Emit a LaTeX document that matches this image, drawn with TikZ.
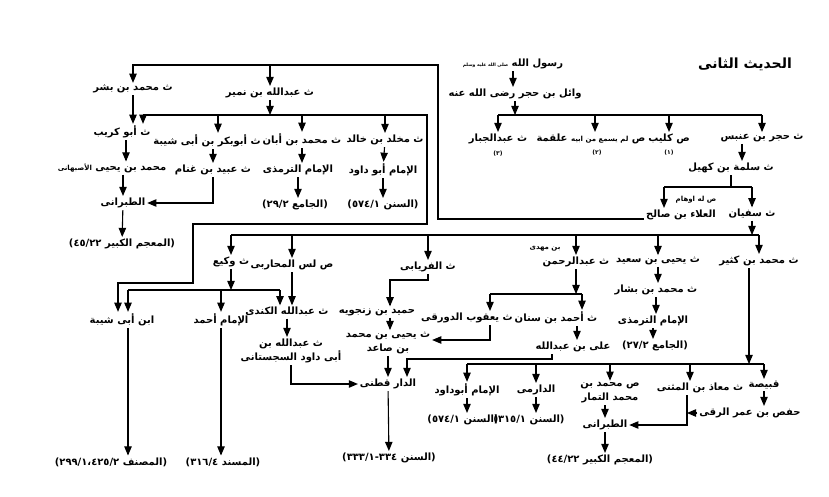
\documentclass[tikz,border=0pt]{standalone}
\usepackage{fontspec}
\usepackage{tikz}
\usetikzlibrary{arrows}
\newfontfamily\arabicfont[Script=Arabic]{DejaVu Sans}
\TeXXeTstate=1
\newcommand{\arb}[1]{\beginR #1\endR}
\newcommand{\src}[2]{\arb{\hbox{(}#1 \hbox{#2}\hbox{)}}}
\newcommand{\sml}{\fontsize{7}{8}\selectfont}

\begin{document}
\begin{tikzpicture}[x=1pt,y=-1pt,->,>=triangle 45,line width=1.1pt]
  \tikzstyle{rawi}=[inner sep=1.5pt,align=center,font=\arabicfont\bfseries\fontsize{10}{14}\selectfont]
  \tikzstyle{smallnote}=[inner sep=1pt,font=\arabicfont\bfseries\fontsize{6}{7}\selectfont]
  \useasboundingbox (0,0) rectangle (829,497);

  % bars and bends
  \coordinate (b1) at (513,115);
  \coordinate (b2) at (727,187);
  \coordinate (c1) at (438,65);
  \coordinate (b3) at (268,115);
  \coordinate (k1) at (427,115);
  \coordinate (k2) at (193,224);
  \coordinate (k3) at (118,283);
  \coordinate (b4) at (753,235);
  \coordinate (b5) at (573,294);
  \coordinate (b7) at (233,290);
  \coordinate (b6) at (749,364);
  \coordinate (f1) at (390,280);
  \coordinate (d1) at (407,359);

  % title and first links
  \node[rawi,font=\arabicfont\bfseries\fontsize{14}{16}\selectfont] (title) at (745,64) {\arb{الحديث الثانى}};
  \node[rawi] (rasul) at (513,64) {\arb{رسول الله {\fontsize{4.5}{5}\selectfont صلى الله عليه وسلم}}};
  \node[rawi] (wail) at (515,94) {\arb{وائل بن حجر رضى الله عنه}};

  \node[rawi] (abdjabbar) at (498,139) {\arb{ث عبدالجبار}};
  \node[rawi] (alqama) at (591,139) {\arb{ص {\sml لم يسمع من ابيه} علقمة}};
  \node[rawi] (kulayb) at (669,139) {\arb{ص كليب}};
  \node[rawi] (hujr) at (762,138) {\arb{ث حجر بن عنبس}};
  \node[smallnote] (n3) at (498,154) {(٣)};
  \node[smallnote] (n2) at (597,153) {(٢)};
  \node[smallnote] (n1) at (669,153) {(١)};

  \node[rawi] (salama) at (731,168) {\arb{ث سلمة بن كهيل}};
  \node[rawi] (alaa) at (681,215) {\arb{العلاء بن صالح}};
  \node[smallnote,font=\arabicfont\bfseries\sml] (awham) at (696,200) {\arb{ص له اوهام}};
  \node[rawi] (sufyan) at (752,214) {\arb{ث سفيان}};

  % ibn numayr and his students
  \node[rawi] (bishr) at (133,89) {\arb{ث محمد بن بشر}};
  \node[rawi] (numayr) at (270,93) {\arb{ث عبدالله بن نمير}};
  \node[rawi] (makhlad) at (385,140) {\arb{ث مخلد بن خالد}};
  \node[rawi] (aban) at (302,140) {\arb{ث محمد بن أبان}};
  \node[rawi] (abubakr) at (207,141) {\arb{ث أبوبكر بن أبى شيبة}};
  \node[rawi] (kurayb) at (122,132) {\arb{ث أبو كريب}};
  \node[rawi] (isbahani) at (112,168) {\arb{محمد بن يحيى {\sml الأصبهانى}}};
  \node[rawi] (ubayd) at (213,170) {\arb{ث عبيد بن غنام}};
  \node[rawi] (abudawudA) at (383,170) {\arb{الإمام أبو داود}};
  \node[rawi] (tirmidhiA) at (298,170) {\arb{الإمام الترمذى}};
  \node[rawi] (tabaraniA) at (123,203) {\arb{الطبرانى}};
  \node[rawi] (sunanA) at (383,205) {\src{السنن}{٥٧٤/١}};
  \node[rawi] (jamiA) at (295,205) {\src{الجامع}{٢٩/٢}};
  \node[rawi] (mujamA) at (122,244) {\src{المعجم الكبير}{٤٥/٢٢}};

  % students of sufyan
  \node[rawi] (kathir) at (759,261) {\arb{ث محمد بن كثير}};
  \node[rawi] (yahya) at (658,261) {\arb{ث يحيى بن سعيد}};
  \node[rawi] (abdrahman) at (576,262) {\arb{ث عبدالرحمن}};
  \node[smallnote,font=\arabicfont\bfseries\sml] (mahdi) at (545,249) {\arb{بن مهدى}};
  \node[rawi] (firyabi) at (428,267) {\arb{ث الفريابى}};
  \node[rawi] (muharibi) at (292,265) {\arb{ص لس المحاربى}};
  \node[rawi] (waki) at (231,262) {\arb{ث وكيع}};

  \node[rawi] (bashshar) at (656,290) {\arb{ث محمد بن بشار}};
  \node[rawi] (tirmidhiB) at (653,321) {\arb{الإمام الترمذى}};
  \node[rawi] (jamiB) at (655,346) {\src{الجامع}{٢٧/٢}};
  \node[rawi] (sinan) at (556,318) {\arb{ث أحمد بن سنان}};
  \node[rawi] (yaqub) at (467,318) {\arb{ث يعقوب الدورقى}};
  \node[rawi] (ali) at (573,347) {\arb{على بن عبدالله}};
  \node[rawi] (humayd) at (377,312) {\arb{حميد بن زنجويه}};
  \node[rawi] (kindi) at (287,312) {\arb{ث عبدالله الكندى}};
  \node[rawi] (ahmad) at (221,320) {\arb{الإمام أحمد}};
  \node[rawi] (shayba) at (122,320) {\arb{ابن أبى شيبة}};
  \node[rawi] (saaid) at (388,343) {\arb{ث يحيى بن محمد}\\\arb{بن صاعد}};
  \node[rawi] (sijistani) at (291,351) {\arb{ث عبدالله بن}\\\arb{أبى داود السجستانى}};
  \node[rawi] (daraqutni) at (388,384) {\arb{الدار قطنى}};
  \node[rawi] (abudawudB) at (467,390) {\arb{الإمام أبوداود}};
  \node[rawi] (darimi) at (536,390) {\arb{الدارمى}};
  \node[rawi] (tammar) at (610,393) {\arb{ص محمد بن}\\\arb{محمد التمار}};
  \node[rawi] (muadh) at (700,388) {\arb{ث معاذ بن المثنى}};
  \node[rawi] (qabisa) at (764,385) {\arb{قبيصة}};
  \node[rawi] (hafs) at (750,413) {\arb{حفص بن عمر الرقى}};
  \node[rawi] (tabaraniB) at (605,425) {\arb{الطبرانى}};
  \node[rawi] (sunanB) at (463,420) {\src{السنن}{٥٧٤/١}};
  \node[rawi] (sunanC) at (529,420) {\src{السنن}{٣١٥/١}};
  \node[rawi] (sunanD) at (389,458) {\src{السنن}{\hbox{٣٣٤}-\hbox{٣٣٣/١}}};
  \node[rawi] (mujamB) at (600,460) {\src{المعجم الكبير}{٤٤/٢٢}};
  \node[rawi] (musannaf) at (111,462) {\src{المصنف}{\hbox{٤٢٥/٢}\hbox{،}\hbox{٢٩٩/١}}};
  \node[rawi] (musnad) at (223,462) {\src{المسند}{٣١٦/٤}};

  % wail and his students
  \draw (rasul) -- (rasul |- wail.north);
  \draw (wail) -- (wail |- b1);
  \draw[-] (abdjabbar |- b1) -- (hujr |- b1);
  \coordinate (alqamaT) at ([xshift=4pt]alqama.north);
  \foreach \n in {abdjabbar,alqamaT,kulayb,hujr}
    \draw (\n |- b1) -- (\n);
  \coordinate (hujrB) at ([xshift=-20pt]hujr.south);
  \draw (hujrB) -- (hujrB |- salama.north);
  \draw[-] (salama.south) -- (salama.south |- b2);
  \coordinate (alaaT) at ([xshift=-17pt]alaa.north);
  \draw[-] (alaaT |- b2) -- (sufyan |- b2);
  \draw (alaaT |- b2) -- (alaaT);
  \draw (sufyan |- b2) -- (sufyan);

  % line from alaa round to the top left
  \draw ([yshift=-4pt]alaa.west) -| (c1) -| (bishr);
  \draw (numayr |- c1) -- (numayr);
  \draw (bishr) -- (bishr |- kurayb.north);
  \draw (numayr) -- (numayr |- b3);
  \coordinate (kT) at ([xshift=21pt]kurayb.north);
  \draw (kT |- b3) -- (k1) |- (k2) |- (k3) -- (k3 |- shayba.north);
  \draw (kT |- b3) -- (kT);
  \coordinate (bakrT) at ([xshift=11pt]abubakr.north);
  \draw (bakrT |- b3) -- (bakrT);
  \draw (aban |- b3) -- (aban);
  \draw (makhlad |- b3) -- (makhlad);
  \draw (makhlad) -- (abudawudA);
  \draw (aban) -- (aban |- tirmidhiA.north);
  \draw (tirmidhiA) -- (tirmidhiA |- jamiA.north);
  \draw (abudawudA) -- (sunanA);
  \draw (abubakr.south -| ubayd) -- (ubayd);
  \draw ([xshift=4pt]kurayb.south) -- ([xshift=4pt]kurayb.south |- isbahani.north);
  \draw (tabaraniA |- isbahani.south) -- (tabaraniA);
  \draw (ubayd.south) |- (tabaraniA.east);
  \draw (tabaraniA) -- (mujamA);

  % sufyan and his students
  \draw (sufyan) -- (sufyan |- b4);
  \draw[-] (waki |- b4) -- (kathir |- b4);
  \foreach \n in {waki,muharibi,firyabi,abdrahman,yahya,kathir}
    \draw (\n |- b4) -- (\n);
  \draw (yahya) -- (yahya |- bashshar.north);
  \draw (bashshar) -- (bashshar |- tirmidhiB.north);
  \draw (tirmidhiB) -- (tirmidhiB |- jamiB.north);
  \coordinate (kathirB) at ([xshift=-10pt]kathir.south);
  \draw (kathirB) -- (kathirB |- b6);

  \draw (abdrahman) -- (abdrahman |- b5);
  \coordinate (yaqubT) at ([xshift=23pt]yaqub.north);
  \coordinate (sinanT) at ([xshift=26pt]sinan.north);
  \draw[-] (yaqubT |- b5) -- (sinanT |- b5);
  \draw (yaqubT |- b5) -- (yaqubT);
  \draw (sinanT |- b5) -- (sinanT);
  \coordinate (sinanB) at ([xshift=21pt]sinan.south);
  \draw (sinanB) -- (sinanB |- ali.north);
  \coordinate (aliB) at ([xshift=-21pt]ali.south);
  \draw (aliB) |- (d1) -- (d1 |- daraqutni.north);
  \coordinate (yaqubB) at ([xshift=23pt]yaqub.south);
  \draw (yaqubB) |- ([yshift=3pt]saaid.east);

  \draw (firyabi.south) |- (f1) -- (f1 |- humayd.north);
  \draw (f1 |- humayd.south) -- (f1 |- saaid.north);
  \draw (saaid) -- (saaid |- daraqutni.north);

  \draw (muharibi) -- (muharibi |- kindi.north);
  \draw (waki) -- (waki |- b7);
  \coordinate (shaybaT) at ([xshift=6pt]shayba.north);
  \coordinate (kindiT) at ([xshift=-7pt]kindi.north);
  \draw[-] (shaybaT |- b7) -- (kindiT |- b7);
  \foreach \p in {shaybaT,kindiT}
    \draw (\p |- b7) -- (\p);
  \draw (ahmad |- b7) -- (ahmad);
  \draw (kindi) -- (kindi |- sijistani.north);
  \draw (sijistani.south) |- (daraqutni.west);
  \draw (daraqutni) -- (sunanD);
  \draw (shaybaT |- shayba.south) -- (shaybaT |- musannaf.north);
  \draw (ahmad) -- (ahmad |- musnad.north);

  % students of muhammad bin kathir
  \draw[-] (abudawudB |- b6) -- (qabisa |- b6);
  \coordinate (muadhT) at ([xshift=-10pt]muadh.north);
  \foreach \n in {abudawudB,darimi,tammar,muadhT,qabisa}
    \draw (\n |- b6) -- (\n);
  \draw (abudawudB) -- (abudawudB |- sunanB.north);
  \draw (darimi) -- (darimi |- sunanC.north);
  \draw (tabaraniB |- tammar.south) -- (tabaraniB);
  \coordinate (muadhB) at ([xshift=-13pt]muadh.south);
  \draw (muadhB) |- (tabaraniB.east);
  \draw (qabisa) -- (qabisa |- hafs.north);
  \draw (hafs.west) -- (hafs.west -| muadhB);
  \draw (tabaraniB) -- (tabaraniB |- mujamB.north);

\end{tikzpicture}
\end{document}
